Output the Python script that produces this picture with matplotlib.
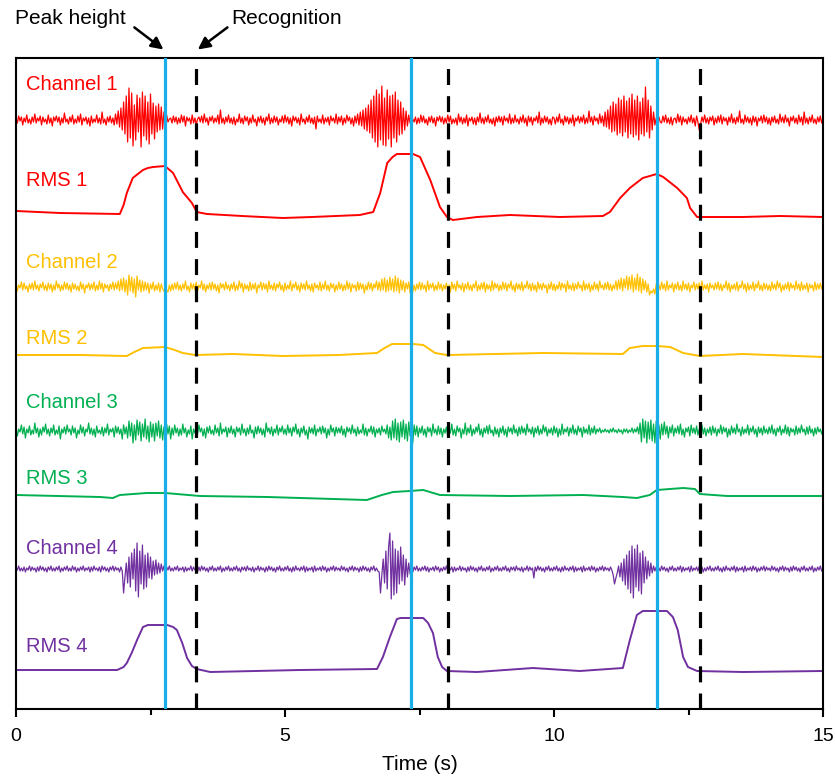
import numpy as np
import matplotlib
matplotlib.use("Agg")
import matplotlib.pyplot as plt

plt.rcParams['font.family'] = ['Liberation Sans', 'DejaVu Sans']

# raw EMG samples (a.u.), 40 per second from 0 to 15 s
ch1 = [2,-3,4,-1,3,-5,2,-2,5,-3,1,-4,3,-2,6,-3,2,-1,4,-5,3,-2,1,-4,5,-3,2,-6,3,-1,4,-2,3,-5,2,-3,7,-2,1,-4,
       3,-2,5,-4,1,-3,4,-2,6,-5,2,-1,3,-4,2,-6,4,-3,1,-2,5,-3,2,-4,8,-3,1,-5,3,-2,4,-3,2,-5,6,-4,9,-7,12,-10,
       18,-14,24,-22,32,-18,27,-26,15,-20,25,-12,22,-27,28,-16,24,-20,18,-24,26,-14,17,-19,14,-12,16,-10,13,-9,8,-6,5,-2,1,2,-3,4,-2,3,
       -4,2,-3,5,-2,4,-6,3,-1,2,-4,5,-3,2,-5,1,3,-2,4,-3,6,-2,2,-5,3,-1,4,-3,2,-2,5,-4,10,-3,2,-4,3,-2,5,-3,
       2,-4,3,-5,1,-2,6,-3,2,-4,4,-1,3,-5,2,-3,5,-2,1,-6,3,-2,4,-3,2,-5,3,-1,6,-4,2,-3,4,-2,3,-5,1,-2,4,-3,
       5,-2,3,-4,2,-6,4,-1,3,-3,2,-5,6,-2,1,-4,3,-2,5,-3,2,-4,3,-9,4,-2,1,-3,5,-4,2,-2,3,-5,4,-1,2,-3,6,-4,
       3,-2,4,-5,2,-3,5,-1,3,-4,2,-6,4,-3,6,-5,8,-6,10,-9,12,-11,15,-13,20,-18,24,-22,30,-27,26,-20,34,-25,22,-26,30,-19,24,-27,
       25,-18,28,-22,20,-15,18,-14,12,-10,9,-6,5,-3,2,1,-2,3,-4,2,-3,5,-2,4,-3,1,-5,3,-2,4,-3,2,-6,3,-1,4,-2,3,-4,2,
       -3,5,-2,4,-4,1,-3,2,-5,6,-2,3,-4,2,-3,5,-6,2,-1,3,-4,2,-5,3,-2,7,-3,2,-4,3,-2,5,-3,1,-4,2,-6,3,-2,4,
       -2,3,-5,4,-1,2,-3,6,-4,2,-3,5,-2,1,-4,3,-2,5,-3,2,-6,4,-2,3,-5,2,-1,4,-3,8,-5,2,-3,4,-2,3,-4,1,-5,3,
       2,-4,3,-2,6,-3,1,-5,4,-2,3,-4,2,-3,5,-6,2,-1,4,-3,3,-2,5,-4,2,-3,9,-2,3,-5,4,-1,2,-4,6,-3,4,-6,8,-7,
       10,-9,14,-12,18,-11,16,-15,22,-13,20,-16,24,-12,19,-18,22,-14,26,-17,20,-15,24,-20,18,-14,22,-16,33,-12,20,-18,14,-10,8,-5,2,1,3,-2,
       -3,4,-2,5,-3,2,-4,3,-5,1,2,-3,6,-2,4,-5,3,-2,1,-4,3,-2,5,-3,2,-6,4,-2,-10,-4,3,-2,5,-3,2,-4,3,-1,4,-5,
       2,-3,4,-2,5,-4,3,-1,2,-5,3,-2,6,-3,2,-4,3,-2,9,-3,1,-4,5,-2,3,-3,2,-5,4,-2,3,-6,2,-1,4,-3,5,-2,3,-4,
       2,-5,3,-2,4,-3,1,-4,6,-2,3,-3,5,-2,2,-6,3,-1,4,-3,2,-4,5,-2,3,-5,8,-3,2,-4,3,-2,5,-3,1,-4,3,-2,4,-3,
       2]
ch2 = [3,-4,2,-1,5,-3,4,-2,1,-5,3,-2,4,-3,6,-2,2,-4,3,-1,5,-3,2,-4,4,-2,3,-5,2,-3,6,-1,3,-4,2,-3,5,-2,4,-3,
       2,-5,4,-2,3,-3,1,-4,5,-2,3,-6,2,-1,4,-3,3,-2,5,-4,2,-3,6,-2,4,-5,3,-1,2,-4,3,-2,5,-3,4,-2,6,-4,8,-3,
       9,-5,7,-8,12,-4,10,-6,8,-10,11,-3,7,-5,6,-4,5,-3,4,-6,3,-2,5,-4,2,-3,4,-5,3,-2,-4,-6,-3,-5,2,-4,3,-3,4,-2,
       5,-3,2,-4,3,-2,6,-3,1,-5,4,-2,3,-3,5,-4,2,-1,6,-3,3,-5,2,-2,4,-3,5,-2,3,-4,2,-6,4,-1,3,-3,5,-2,2,-4,
       3,-2,5,-4,2,-3,6,-1,4,-5,3,-2,2,-4,5,-3,3,-2,4,-6,2,-1,5,-3,4,-2,3,-5,6,-2,2,-3,4,-4,3,-1,5,-3,2,-5,
       4,-3,2,-2,6,-4,3,-1,5,-3,2,-5,4,-2,3,-3,6,-2,2,-4,3,-5,4,-1,2,-3,5,-4,3,-2,6,-3,2,-4,4,-1,3,-5,2,-3,
       5,-2,3,-4,2,-3,6,-2,4,-5,3,-1,2,-4,5,-3,4,-2,3,-6,2,-3,5,-2,4,-4,3,-1,6,-3,5,-4,8,-3,9,-5,7,-4,10,-3,
       8,-5,11,-4,9,-6,7,-3,6,-5,4,-2,5,-6,-3,-5,2,-4,3,-2,5,-3,4,-2,2,-5,6,-3,3,-1,4,-4,2,-3,5,-2,3,-4,2,-2,
       4,-3,2,-5,5,-2,3,-4,6,-1,2,-3,4,-5,3,-2,5,-3,2,-4,3,-1,6,-4,2,-3,4,-2,5,-5,3,-2,2,-4,6,-3,4,-1,3,-4,
       2,-3,5,-2,4,-4,3,-1,6,-3,2,-5,4,-2,3,-3,5,-4,2,-1,6,-2,3,-4,4,-3,2,-5,5,-2,3,-3,4,-1,2,-6,3,-2,5,-3,
       3,-4,2,-2,5,-3,4,-1,3,-5,6,-2,2,-3,4,-4,3,-2,5,-1,2,-4,6,-3,3,-2,4,-5,2,-3,5,-2,3,-4,6,-1,2,-3,4,-2,
       5,-3,3,-4,2,-2,6,-3,7,-2,9,-4,8,-1,11,-3,10,-2,12,-5,9,-3,13,-4,10,-6,8,-3,6,-5,3,-8,-4,-6,-2,-7,3,-4,2,-3,
       5,-2,3,-4,6,-3,2,-1,4,-5,3,-2,5,-3,2,-4,6,-2,3,-3,4,-5,2,-1,5,-3,3,-2,4,-4,6,-3,2,-2,3,-5,4,-1,2,-3,
       4,-2,5,-3,3,-4,2,-1,6,-3,4,-5,2,-2,3,-3,5,-4,2,-1,6,-2,3,-5,4,-3,2,-2,5,-4,3,-1,6,-3,2,-4,4,-2,3,-3,
       2,-4,5,-2,3,-3,6,-1,4,-5,2,-3,3,-2,5,-4,4,-1,2,-3,6,-2,3,-4,5,-3,2,-2,4,-5,3,-1,2,-4,5,-3,3,-2,4,-2,
       3]
ch3 = [3,-5,2,-1,6,-3,4,-7,2,-2,5,-4,1,-3,8,-2,3,-6,2,-4,4,-1,7,-3,2,-5,3,-2,6,-4,1,-3,5,-8,2,-2,4,-3,6,-1,
       2,-4,5,-2,3,-7,1,-3,6,-2,4,-5,2,-1,8,-3,3,-4,2,-6,5,-2,1,-3,4,-5,3,-2,7,-4,2,-1,3,-6,5,-2,4,-3,2,-8,
       6,-3,4,-7,10,-5,8,-12,6,-9,11,-4,9,-10,7,-6,12,-8,5,-11,9,-6,7,-10,8,-5,10,-7,6,-9,4,-6,7,-3,5,-8,3,-4,6,-2,
       3,-5,2,-4,7,-2,3,-6,1,-3,5,-8,2,-2,4,-3,6,-1,3,-5,2,-7,4,-2,5,-3,1,-4,6,-2,3,-5,8,-3,2,-1,4,-6,3,-2,
       5,-3,2,-6,4,-1,3,-4,7,-2,2,-5,3,-3,6,-2,1,-7,4,-3,5,-2,3,-4,2,-6,8,-1,3,-3,4,-5,2,-2,6,-4,3,-1,5,-3,
       2,-4,6,-2,3,-5,4,-1,7,-3,2,-6,3,-2,5,-4,1,-8,4,-2,3,-3,6,-5,2,-1,4,-3,5,-2,3,-7,2,-4,6,-1,3,-5,4,-2,
       3,-2,5,-4,2,-6,4,-1,3,-3,6,-2,2,-5,4,-3,1,-2,7,-4,3,-5,2,-1,5,-3,4,-6,2,-2,3,-4,5,-1,2,-3,6,-7,4,-9,
       10,-7,12,-9,8,-11,9,-6,11,-8,7,-10,9,-5,8,-12,6,-4,5,-6,3,-2,5,-4,2,-6,4,-1,3,-5,7,-2,2,-4,5,-3,3,-6,2,-2,
       4,-6,3,-2,7,-4,2,-5,5,-1,3,-7,2,-3,8,-4,3,-2,6,-5,2,-3,4,-1,7,-4,2,-6,3,-2,5,-3,6,-2,1,-5,4,-3,2,-6,
       3,-2,5,-4,2,-6,4,-1,3,-3,6,-2,2,-5,4,-3,5,-2,3,-4,7,-1,2,-3,4,-6,3,-2,5,-4,2,-3,6,-1,4,-5,2,-2,3,-4,
       5,-2,3,-6,2,-4,7,-3,2,-1,4,-5,3,-2,6,-3,2,-4,5,-1,3,-6,4,-2,2,-3,6,-4,3,-2,5,-3,2,-1,3,-2,1,-1,2,-1,
       1,-2,2,-1,3,-1,1,-2,2,-1,1,-3,2,-1,2,-2,1,-1,3,-2,2,-1,4,-3,8,-11,12,-7,10,-12,9,-8,11,-10,7,-12,10,-5,6,-8,
       7,-4,9,-3,5,-7,4,-2,6,-5,3,-2,5,-3,7,-4,2,-6,3,-1,4,-5,6,-2,3,-3,5,-4,2,-1,6,-3,3,-5,2,-2,4,-4,5,-2,
       3,-5,2,-2,6,-3,4,-1,3,-6,2,-4,5,-2,3,-3,7,-1,2,-5,4,-3,2,-2,6,-4,3,-1,5,-3,2,-6,4,-2,3,-4,5,-2,2,-3,
       4,-2,6,-3,2,-5,3,-1,5,-4,2,-2,6,-3,4,-5,3,-1,2,-4,5,-3,3,-2,6,-1,2,-4,4,-3,5,-2,2,-5,3,-3,4,-1,2,-3,
       2]
ch4 = [2,-1,3,-2,1,-2,2,-3,1,-1,3,-2,2,-1,1,-3,2,-2,3,-1,2,-2,1,-3,2,-1,3,-2,1,-2,2,-1,3,-3,1,-2,2,-1,3,-2,
       1,-2,3,-1,2,-3,1,-2,2,-1,3,-2,1,-1,2,-3,2,-2,3,-1,1,-2,2,-3,3,-1,2,-2,1,-3,2,-1,3,-2,2,-1,1,-3,2,-2,
       -24,-8,6,-14,12,-18,16,-10,20,-22,26,-28,18,-15,24,-20,14,-18,16,-9,12,-10,8,-6,9,-5,6,-4,5,-2,3,-4,2,-1,3,-2,1,-2,2,-1,
       3,-2,1,-1,2,-3,2,-2,1,-1,3,-2,2,-1,1,-3,2,-2,3,-1,2,-2,1,-3,2,-1,3,-2,1,-2,2,-1,3,-3,1,-2,2,-1,3,-2,
       1,-2,2,-1,3,-2,1,-3,2,-1,2,-2,3,-1,1,-2,2,-3,1,-1,3,-2,2,-1,1,-3,2,-2,3,-1,2,-2,1,-3,2,-1,3,-2,1,-2,
       2,-1,3,-2,1,-3,2,-2,3,-1,1,-2,2,-1,3,-3,2,-2,1,-1,2,-3,3,-2,1,-1,2,-2,3,-1,2,-3,1,-2,2,-1,3,-2,2,-1,
       1,-2,3,-1,2,-2,1,-3,2,-1,3,-2,2,-1,1,-3,2,-2,3,-1,2,-2,1,-3,2,-1,3,-2,1,-2,-3,-24,-6,10,-14,18,-20,22,36,-30,
       28,-26,20,-24,18,-15,22,-12,14,-16,10,-8,6,-5,4,-3,2,-1,3,-2,1,-2,2,-1,3,-2,2,-3,1,-1,2,-2,3,-1,2,-3,1,-2,2,-1,
       3,-2,1,-1,2,-3,2,-2,1,-1,3,-2,2,-1,1,-3,2,-2,3,-1,2,-2,1,-3,2,-1,3,-2,1,-2,2,-1,3,-3,1,-2,2,-1,3,-2,
       1,-2,2,-1,3,-2,1,-3,2,-1,2,-2,3,-1,1,-2,2,-3,1,-1,3,-2,2,-1,1,-9,2,-2,3,-1,2,-2,1,-3,2,-1,3,-2,1,-2,
       2,-1,3,-2,1,-3,2,-2,3,-1,1,-2,2,-1,3,-3,2,-2,1,-1,2,-3,3,-2,1,-1,2,-2,3,-1,2,-3,1,-2,2,-1,3,-2,2,-1,
       1,-2,2,-1,-6,-15,-9,-4,3,-8,6,-12,10,-16,14,-20,18,-24,23,-29,20,-18,24,-22,16,-25,18,-14,12,-10,8,-7,6,-4,3,-2,2,-3,1,-2,
       3,-1,2,-2,1,-3,2,-1,3,-2,1,-2,2,-1,3,-3,2,-2,1,-1,2,-3,3,-2,1,-1,2,-2,3,-1,2,-3,1,-2,2,-1,3,-2,1,-2,
       2,-1,3,-2,1,-3,2,-2,3,-1,1,-2,2,-1,3,-3,2,-2,1,-1,2,-3,3,-2,1,-1,2,-2,3,-1,2,-3,1,-2,2,-1,3,-2,2,-1,
       1,-2,3,-1,2,-2,1,-3,2,-1,3,-2,2,-1,1,-3,2,-2,3,-1,2,-2,1,-3,2,-1,3,-2,1,-2,2,-1,3,-3,1,-2,2,-1,3,-2,
       1]

# RMS envelopes (time s, level a.u.)
rms1_t = [0, 0.82, 1.93, 2.0, 2.06, 2.17, 2.36, 2.45, 2.55, 2.77, 2.92, 3.10, 3.27, 3.36, 3.55, 4.2, 4.96, 5.5,
          6.39, 6.64, 6.77, 6.90, 7.0, 7.08, 7.38, 7.51, 7.70, 7.88, 8.01, 8.12, 8.57, 9.18, 10.11, 10.91,
          11.04, 11.23, 11.41, 11.65, 11.91, 12.03, 12.29, 12.47, 12.53, 12.66, 13.51, 14.2, 15.0]
rms1_v = [9, 7, 6, 15, 27, 42, 50, 52, 53, 54, 47, 28, 17, 8, 6, 4, 2, 3,
          5, 8, 27, 57, 63, 66, 66, 63, 40, 13, 3, 0, 3, 5, 3, 4,
          8, 22, 32, 42, 46, 43, 32, 22, 12, 3, 3, 4, 3]
rms2_t = [0, 1.2, 2.06, 2.2, 2.36, 2.77, 2.95, 3.10, 3.33, 4.03, 4.96, 6.0, 6.71, 6.85, 6.99, 7.38, 7.57, 7.79, 8.01,
          9.80, 11.28, 11.41, 11.65, 11.91, 12.16, 12.40, 12.71, 13.51, 15.0]
rms2_v = [5, 5, 4, 8, 12, 13, 10, 7, 5, 6, 4, 5, 7, 12, 16, 16, 15, 7, 5,
          7, 6, 12, 14, 14, 13, 7, 4, 6, 3]
rms3_t = [0, 1.56, 1.80, 1.93, 2.43, 2.77, 3.42, 4.67, 6.52, 6.80, 7.01, 7.32, 7.57, 7.88,
          9.18, 10.54, 11.28, 11.54, 11.78, 11.91, 12.40, 12.62, 12.71, 13.22, 15.0]
rms3_v = [5, 3, 2, 5, 7, 7, 4, 3, 0, 5, 8, 9, 10, 5,
          4, 5, 3, 2, 5, 10, 12, 11, 6, 4, 4]
rms4_t = [0, 1.88, 2.0, 2.06, 2.15, 2.25, 2.36, 2.45, 2.55, 2.81, 2.92, 2.99, 3.09, 3.18, 3.27, 3.36, 3.61, 5.28, 6.71,
          6.82, 6.95, 7.08, 7.15, 7.38, 7.57, 7.66, 7.75, 7.84, 7.92, 8.01, 8.57, 9.61, 10.48, 11.28,
          11.41, 11.54, 11.65, 12.10, 12.21, 12.30, 12.40, 12.49, 12.66, 13.51, 15.0]
rms4_v = [5, 5, 8, 12, 22, 35, 48, 50, 50, 50, 48, 45, 32, 17, 9, 6, 3, 5, 6,
          18, 38, 56, 57, 57, 57, 52, 42, 18, 8, 4, 3, 7, 4, 7,
          35, 60, 64, 64, 58, 45, 18, 8, 4, 3, 4]

peak_times = [2.77, 7.35, 11.91]
recog_times = [3.35, 8.03, 12.71]

labels = ["Channel 1", "RMS 1", "Channel 2", "RMS 2", "Channel 3", "RMS 3", "Channel 4", "RMS 4"]

red, yellow, green, purple = "#FF0000", "#FFC000", "#00B050", "#7030A0"
blue = "#1AAEE8"

fig = plt.figure(figsize=(8.35, 7.8), dpi=100)
ax = fig.add_axes([16/835, 71/780, 807/835, 651/780])

# trace baselines and label heights (a.u., axis runs 0..651)
raw_sets = [(ch1, 589, red), (ch2, 422, yellow), (ch3, 278, green), (ch4, 140, purple)]
rms_sets = [(rms1_t, rms1_v, 489, red), (rms2_t, rms2_v, 349, yellow),
            (rms3_t, rms3_v, 209, green), (rms4_t, rms4_v, 34, purple)]
label_y = [624, 529, 446, 371, 306, 231, 161, 62]
label_c = [red, red, yellow, yellow, green, green, purple, purple]

for vals, off, c in raw_sets:
    tt = np.linspace(0, 15, len(vals))
    ax.plot(tt, off + np.array(vals), color=c, lw=0.9)
for tt, vv, off, c in rms_sets:
    ax.plot(tt, off + np.array(vv), color=c, lw=1.4)

for lab, yy, c in zip(labels, label_y, label_c):
    ax.text(0.19, yy, lab, color=c, fontsize=14.5, va='center', ha='left')

for x in peak_times:
    ax.axvline(x, color=blue, lw=2.3, zorder=4)
for x in recog_times:
    ax.axvline(x, color='black', lw=2.3, linestyle=(0, (5, 3.5)), zorder=4)

ax.set_xlim(0, 15)
ax.set_ylim(0, 651)
ax.set_yticks([])
ax.set_xticks([0, 5, 10, 15])
ax.set_xticks([2.5, 7.5, 12.5], minor=True)
ax.tick_params(axis='x', which='major', length=6, width=1.5, labelsize=14, pad=8)
ax.tick_params(axis='x', which='minor', length=4, width=1.5)
for s in ax.spines.values():
    s.set_linewidth(1.5)
ax.set_xlabel("Time (s)", fontsize=15, labelpad=7)

# annotations above the plot
ax.text(-0.0015, 1.060, "Peak height", transform=ax.transAxes, fontsize=15, va='center', ha='left')
ax.text(4.0, 1.060, "Recognition", transform=ax.get_xaxis_transform(), fontsize=15,
        va='center', ha='left')
ax.annotate("", xy=(2.74, 1.013), xycoords=('data', 'axes fraction'),
            xytext=(2.2, 1.047), textcoords=('data', 'axes fraction'),
            arrowprops=dict(arrowstyle='-|>', color='black', lw=1.8, mutation_scale=18,
                            shrinkA=0, shrinkB=0),
            annotation_clip=False)
ax.annotate("", xy=(3.38, 1.013), xycoords=('data', 'axes fraction'),
            xytext=(3.93, 1.047), textcoords=('data', 'axes fraction'),
            arrowprops=dict(arrowstyle='-|>', color='black', lw=1.8, mutation_scale=18,
                            shrinkA=0, shrinkB=0),
            annotation_clip=False)

fig.savefig("out.png", dpi=100)
